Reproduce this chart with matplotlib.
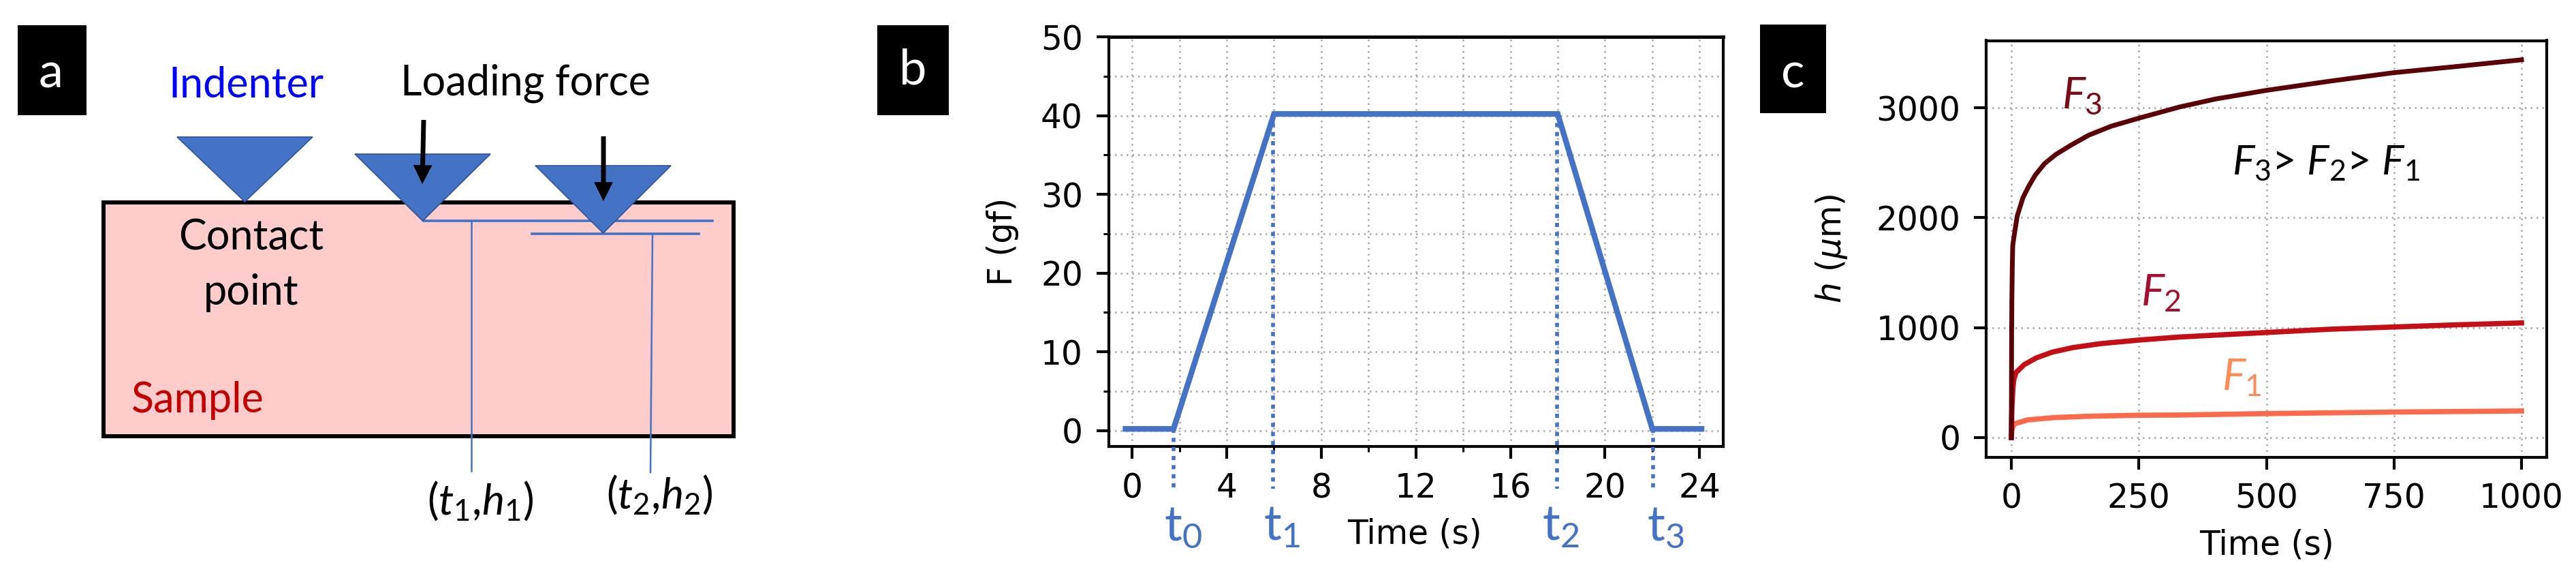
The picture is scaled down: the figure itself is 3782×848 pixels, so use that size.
import matplotlib
matplotlib.use("Agg")
import matplotlib.pyplot as plt
from matplotlib.patches import Polygon, Rectangle
from matplotlib.ticker import MultipleLocator

plt.rcParams['font.family'] = ['DejaVu Sans']
plt.rcParams['mathtext.fontset'] = 'custom'
plt.rcParams['mathtext.rm'] = 'Lato'
plt.rcParams['mathtext.it'] = 'Lato:italic'
plt.rcParams['mathtext.bf'] = 'Lato:bold'

W, H = 3782, 848

# Panel b data
force_time = [-0.4, 1.75, 6, 18, 22, 24.2]
force_gf = [0.2, 0.2, 40.2, 40.2, 0.2, 0.2]
marker_times = [1.75, 5.97, 17.97, 22.03]
marker_tops = [0.2, 40.2, 40.2, 0.2]
marker_labels = ['t$_{0}$', 't$_{1}$', 't$_{2}$', 't$_{3}$']
marker_label_x = [1737, 1882, 2292, 2446]

# Panel c data
f3_t = [0, 0.5, 1, 1.8, 2.7, 7, 11.6, 22.7, 34, 47, 65, 87, 116, 152, 196, 250, 330, 400, 500, 625, 750, 875, 1000]
f3_h = [0, 900, 1250, 1542, 1748, 1883, 2017, 2182, 2286, 2389, 2492, 2575, 2658, 2752, 2833, 2906, 3008, 3080, 3159, 3243, 3320, 3377, 3437]
f2_t = [0, 1, 3, 5, 9, 25, 49, 80, 120, 174, 250, 330, 500, 625, 750, 875, 1000]
f2_h = [0, 250, 450, 530, 591, 663, 725, 777, 818, 854, 887, 915, 956, 986, 1006, 1026, 1043]
f1_t = [0, 1, 3, 7, 32, 85, 152, 250, 330, 500, 750, 1000]
f1_h = [0, 60, 100, 126, 161, 182, 194, 203, 205, 218, 232, 242]

BLUE = '#4472c4'
TICK_FS = 35
GRID = dict(color='#a6a6a6', lw=1.8, linestyle=(0, (1, 2.4)))


def px_axes(l, t, r, b, **kw):
    return fig.add_axes([l / W, 1 - b / H, (r - l) / W, (b - t) / H], **kw)


def style(ax):
    for s in ax.spines.values():
        s.set_linewidth(3)
    ax.tick_params(which='major', length=13, width=3, labelsize=TICK_FS, pad=14)
    ax.tick_params(which='minor', length=6, width=2.2)
    ax.set_axisbelow(True)


fig = plt.figure(figsize=(W / 100, H / 100), dpi=100, facecolor='white')

# ---- overlay in image coordinates, for panel a and annotations ----
ov = px_axes(0, 0, W, H)
ov.set_xlim(0, W)
ov.set_ylim(H, 0)
ov.axis('off')
ov.set_zorder(5)
ov.patch.set_alpha(0)

LAT = dict(family='Lato', math_fontfamily='custom', ha='center', va='center')

for (x0, y0, x1, y1), letter, cx, cy in [((26, 37, 127, 169), 'a', 75, 108),
                                         ((1288, 37, 1393, 169), 'b', 1340, 103),
                                         ((2584, 36, 2681, 166), 'c', 2632, 108)]:
    ov.add_patch(Rectangle((x0, y0), x1 - x0, y1 - y0, fc='black', ec='none'))
    ov.text(cx, cy, letter, color='white', fontsize=52, **LAT)

# sample block
ov.add_patch(Rectangle((152, 297), 925, 343, fc='#ffcccc', ec='black', lw=4.3, zorder=1))

# indenters: (left, right, top, tip)
indenters = [(260, 459, 201, 296), (521, 720, 226, 324), (786, 985, 243, 342)]
for xl, xr, yt, yb in indenters:
    ov.add_patch(Polygon([(xl, yt), (xr, yt), ((xl + xr) / 2, yb)], closed=True,
                         fc=BLUE, ec='#2f5597', lw=1.2, zorder=3))

# depth lines
ov.plot([622, 1046], [324, 324], color=BLUE, lw=2.6, zorder=2)
ov.plot([781, 1026], [343, 343], color=BLUE, lw=2.6, zorder=2)
ov.plot([692, 692], [324, 691], color=BLUE, lw=1.8, zorder=2)
ov.plot([958, 955], [343, 693], color=BLUE, lw=1.8, zorder=2)

# force arrows
for (x0, y0, x1, y1) in [(622, 176, 620, 270), (886, 200, 886, 295)]:
    ov.annotate('', xy=(x1, y1), xytext=(x0, y0), zorder=4,
                arrowprops=dict(width=5, headwidth=20, headlength=20, shrink=0,
                                fc='black', ec='black', lw=0))

ov.text(361, 125, 'Indenter', color='#0000ff', fontsize=44, **LAT)
ov.text(771, 122, 'Loading force', color='black', fontsize=44, **LAT)
ov.text(369, 349, 'Contact', color='black', fontsize=44, **LAT)
ov.text(369, 430, 'point', color='black', fontsize=44, **LAT)
ov.text(290, 587, 'Sample', color='#c00000', fontsize=44, **LAT)
ov.text(705, 735, r'($\mathit{t}_{1}$,$\mathit{h}_{1}$)', color='black', fontsize=45, **LAT)
ov.text(968, 726, r'($\mathit{t}_{2}$,$\mathit{h}_{2}$)', color='black', fontsize=45, **LAT)

# ---- panel b ----
axb = px_axes(1627.5, 54, 2530, 655)
axb.set_xlim(-1, 25)
axb.set_ylim(-2.03, 50)
style(axb)
axb.spines['top'].set_linewidth(3.5)
axb.xaxis.set_major_locator(MultipleLocator(4))
axb.xaxis.set_minor_locator(MultipleLocator(2))
axb.yaxis.set_major_locator(MultipleLocator(10))
axb.yaxis.set_minor_locator(MultipleLocator(5))
axb.grid(which='both', **GRID)
axb.plot(force_time, force_gf, color=BLUE, lw=6, solid_joinstyle='miter',
         solid_capstyle='butt', zorder=3)
for t, top in zip(marker_times, marker_tops):
    axb.plot([t, t], [top, -7.4], color=BLUE, lw=4, linestyle=(0, (1.1, 1.3)),
             clip_on=False, zorder=4)
axb.set_xlabel('Time (s)', fontsize=TICK_FS, va='center')
axb.xaxis.set_label_coords(2077, 784, transform=ov.transData)
axb.set_ylabel('F (gf)', fontsize=TICK_FS, va='center')
axb.yaxis.set_label_coords(1472, 354, transform=ov.transData)
for x, s in zip(marker_label_x, marker_labels):
    ov.text(x, 773, s, color=BLUE, fontsize=52, **LAT)

# ---- panel c ----
axc = px_axes(2916, 59.5, 3739, 670.5)
axc.set_xlim(-49.4, 1049.4)
axc.set_ylim(-177, 3612)
style(axc)
axc.set_xticks([0, 250, 500, 750, 1000])
axc.set_yticks([0, 1000, 2000, 3000])
axc.grid(which='major', **GRID)
axc.plot(f1_t, f1_h, color='#fb6a4a', lw=5.5, zorder=3)
axc.plot(f2_t, f2_h, color='#c50f17', lw=5.5, zorder=4)
axc.plot(f3_t, f3_h, color='#5c0008', lw=5, zorder=5)
axc.set_xlabel('Time (s)', fontsize=TICK_FS, va='center')
axc.xaxis.set_label_coords(3328, 799, transform=ov.transData)
axc.set_ylabel(r'$h$ ($\mu$m)', fontsize=TICK_FS, va='center', math_fontfamily='dejavusans')
axc.yaxis.set_label_coords(2689, 365, transform=ov.transData)

ov.text(3057, 141, r'$\mathit{F}_{3}$', color='#7b0a17', fontsize=46, **LAT)
ov.text(3173, 430, r'$\mathit{F}_{2}$', color='#a50f2d', fontsize=46, **LAT)
ov.text(3291, 554, r'$\mathit{F}_{1}$', color='#fc8d59', fontsize=46, **LAT)
ov.text(3415, 238, r'$\mathit{F}_{3}$> $\mathit{F}_{2}$> $\mathit{F}_{1}$', color='black', fontsize=44, **LAT)

fig.savefig('out.png', dpi=100)
